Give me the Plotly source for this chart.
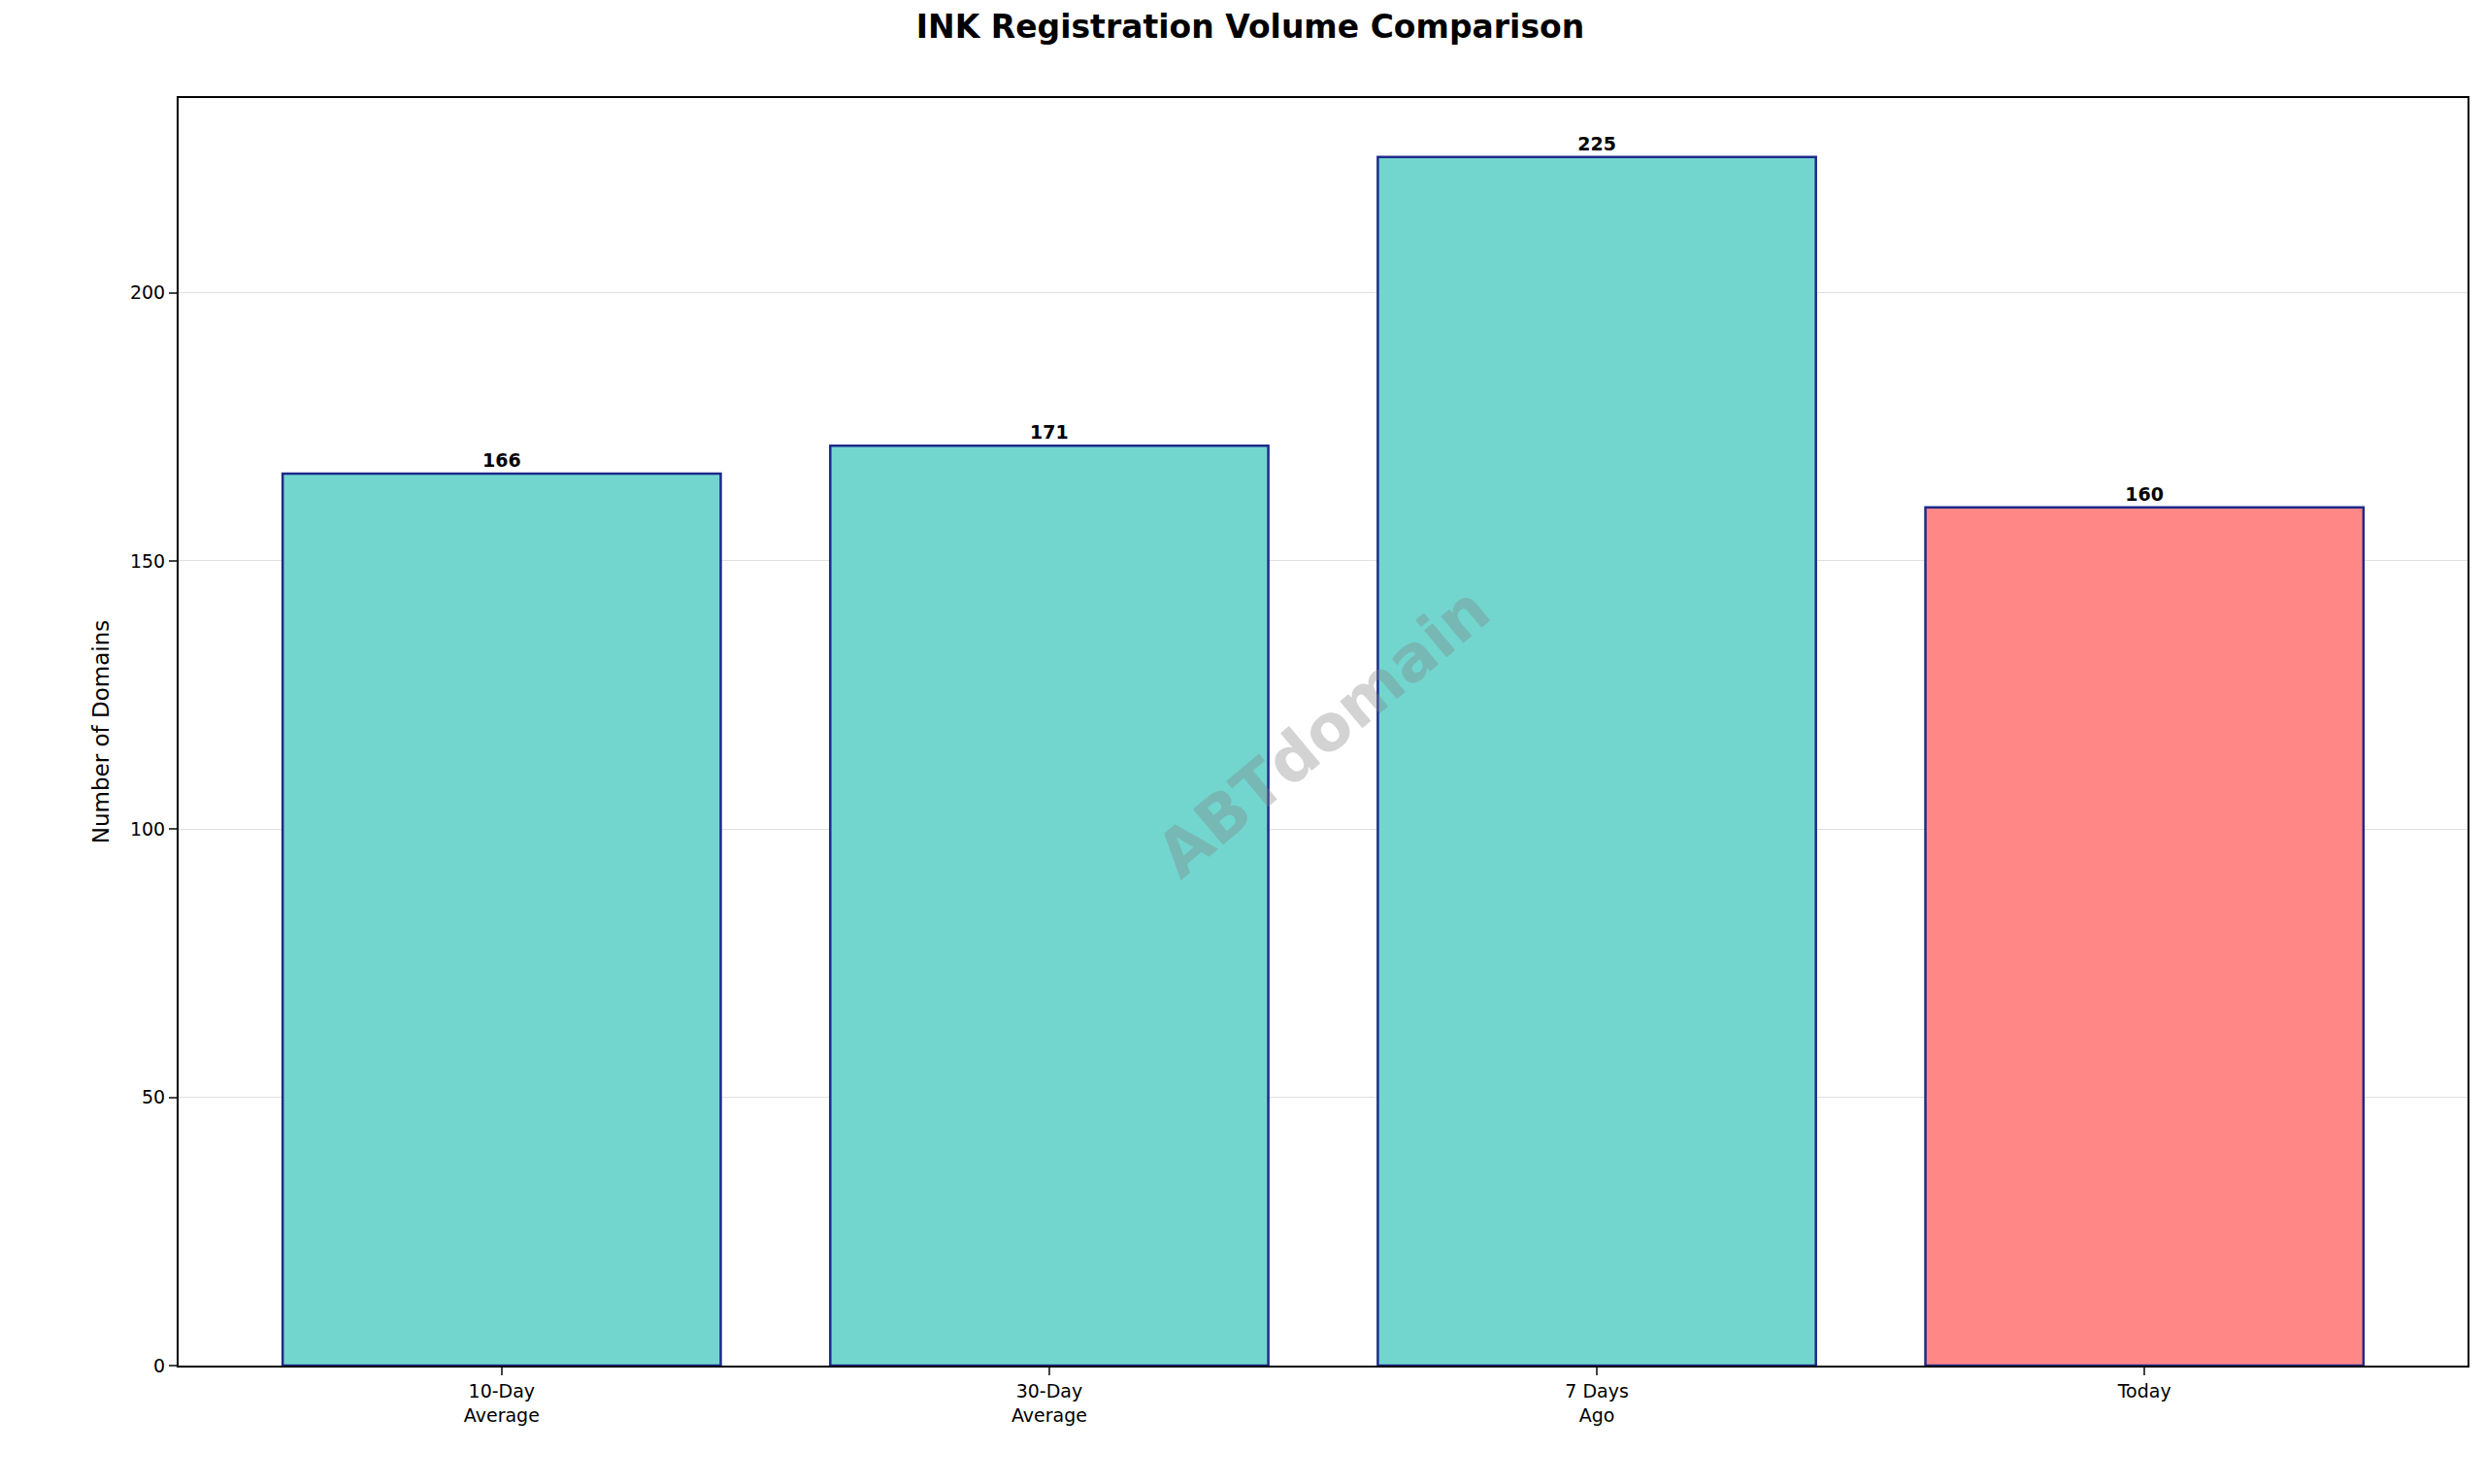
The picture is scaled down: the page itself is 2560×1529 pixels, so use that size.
import plotly.graph_objects as go

categories = ["10-Day<br>Average", "30-Day<br>Average", "7 Days<br>Ago", "Today"]
values = [166.3, 171.5, 225.3, 160.0]
labels = ["166", "171", "225", "160"]
colors = ["#72d6cf", "#72d6cf", "#72d6cf", "#ff8886"]

fig = go.Figure(go.Bar(
    x=list(range(4)), y=values, width=0.8,
    marker=dict(color=colors, line=dict(color="#1f2a8a", width=2.5)),
    text=labels, textposition="outside",
    textfont=dict(family="DejaVu Sans", size=19, color="black", weight="bold"),
    cliponaxis=False,
))
fig.update_layout(
    width=2560, height=1529, plot_bgcolor="white", paper_bgcolor="white",
    margin=dict(l=176, r=26, t=93, b=130),
    font=dict(family="DejaVu Sans", color="black", size=19),
    title=dict(text="<b>INK Registration Volume Comparison</b>", x=0.5, xanchor="center",
               y=0.995, yanchor="top", font=dict(size=33)),
    showlegend=False,
    uniformtext=dict(mode=False),
)
fig.update_xaxes(range=[-0.59, 3.59], tickvals=list(range(4)), ticktext=categories,
                 showline=True, linecolor="black", linewidth=2, mirror=True,
                 ticks="outside", ticklen=8, tickwidth=2, showgrid=False)
fig.update_yaxes(range=[0, 236.3], tickvals=[0, 50, 100, 150, 200],
                 title=dict(text="Number of Domains", font=dict(size=23)),
                 showline=True, linecolor="black", linewidth=2, mirror=True,
                 ticks="outside", ticklen=8, tickwidth=2,
                 gridcolor="rgba(0,0,0,0.12)", zeroline=False)
fig.add_annotation(text="<b>ABTdomain</b>", x=0.5, y=0.5, xref="paper", yref="paper",
                   showarrow=False, textangle=-40, font=dict(size=66, color="rgba(128,128,128,0.35)"))
fig.write_html("out.html")
